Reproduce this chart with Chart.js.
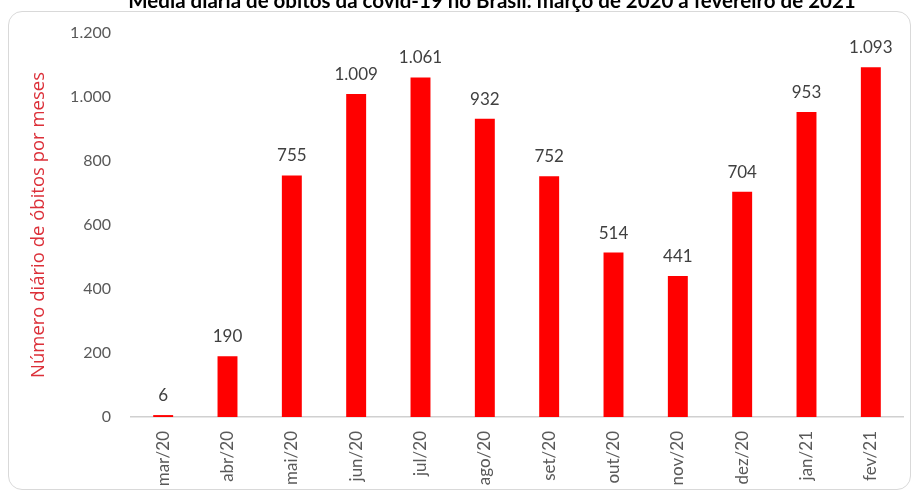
<!DOCTYPE html>
<html>
<head>
<meta charset="utf-8">
<script src="https://cdn.jsdelivr.net/npm/chart.js@4.4.1/dist/chart.umd.min.js"></script>
<style>
html,body{margin:0;padding:0;background:#fff;}
#wrap{position:relative;width:917px;height:497px;overflow:hidden;}
#box{position:absolute;left:8px;top:11px;width:903px;height:479px;border:1.5px solid #d9d9d9;border-radius:14px;box-sizing:border-box;}
#cv{position:absolute;left:0;top:-13px;}
</style>
</head>
<body>
<div id="wrap">
<div id="box"></div>
<canvas id="cv" width="917" height="510"></canvas>
</div>
<script>
const categories = ["mar/20","abr/20","mai/20","jun/20","jul/20","ago/20","set/20","out/20","nov/20","dez/20","jan/21","fev/21"];
const deaths = [6,190,755,1009,1061,932,752,514,441,704,953,1093];
const yTicks = [0,200,400,600,800,1000,1200];
const titleText = "Média diária de óbitos da covid-19 no Brasil: março de 2020 a fevereiro de 2021";
const yTitle = "Número diário de óbitos por meses";

function fmt(v){ return v.toString().replace(/\B(?=(\d{3})+(?!\d))/g, "."); }

const valueLabels = {
  id: 'valueLabels',
  afterDatasetsDraw(chart){
    const ctx = chart.ctx;
    const meta = chart.getDatasetMeta(0);
    ctx.save();
    ctx.font = '17px Lato';
    ctx.fillStyle = '#404040';
    ctx.textAlign = 'center';
    ctx.textBaseline = 'bottom';
    meta.data.forEach((bar, i) => {
      ctx.fillText(fmt(deaths[i]), bar.x, bar.y - 11);
    });
    ctx.restore();
  }
};

const topTitle = {
  id: 'topTitle',
  afterDraw(chart){
    const ctx = chart.ctx;
    ctx.save();
    ctx.font = 'bold 20.5px Lato';
    ctx.fillStyle = '#000';
    ctx.textAlign = 'center';
    ctx.textBaseline = 'alphabetic';
    ctx.fillText(titleText, 492, 21);
    ctx.restore();
  }
};

new Chart(document.getElementById('cv'), {
  type: 'bar',
  data: {
    labels: categories,
    datasets: [{
      data: deaths,
      backgroundColor: '#ff0000',
      borderWidth: 0,
      categoryPercentage: 1,
      barPercentage: 0.31
    }]
  },
  options: {
    responsive: false,
    animation: false,
    layout: { padding: { left: 23.5, right: 14, top: 46, bottom: 0 } },
    plugins: {
      legend: { display: false },
      tooltip: { enabled: false },
      title: { display: false }
    },
    scales: {
      y: {
        min: 0, max: 1200,
        afterBuildTicks(scale){ scale.ticks = yTicks.map(v => ({ value: v })); },
        afterFit(scale){ scale.width = 107.5; },
        grid: { display: false, drawTicks: false },
        border: { display: false },
        ticks: {
          color: '#595959',
          font: { family: 'Lato', size: 16 },
          padding: 20,
          callback: (v) => fmt(v)
        },
        title: {
          display: true,
          text: yTitle,
          color: '#dc3039',
          font: { family: 'Open Sans', size: 18.5 },
          padding: { top: 4, bottom: 0 }
        }
      },
      x: {
        afterFit(scale){ scale.height = 80; },
        grid: { display: false, drawTicks: false },
        border: { display: true, color: '#d0d0d0', width: 1.5 },
        ticks: {
          color: '#595959',
          font: { family: 'Lato', size: 17 },
          minRotation: 90, maxRotation: 90,
          padding: 14,
          autoSkip: false
        }
      }
    }
  },
  plugins: [valueLabels, topTitle]
});
</script>
</body>
</html>
